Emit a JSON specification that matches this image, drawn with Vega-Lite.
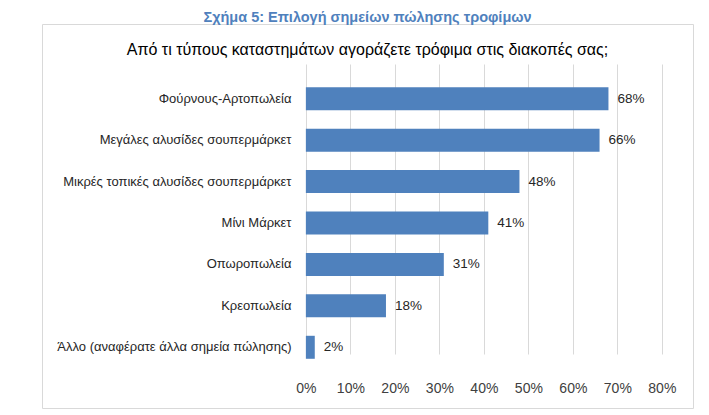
{
  "$schema": "https://vega.github.io/schema/vega-lite/v6.json",
  "autosize": {"type": "none"},
  "padding": {"left": 42, "top": 24, "right": 16, "bottom": 7},
  "width": 651,
  "height": 384,
  "background": "white",
  "title": {
    "text": "Σχήμα 5: Επιλογή σημείων πώλησης τροφίμων",
    "subtitle": "Από τι τύπους καταστημάτων αγοράζετε τρόφιμα στις διακοπές σας;",
    "anchor": "middle",
    "frame": "group",
    "offset": -35,
    "font": "Liberation Sans",
    "fontSize": 14.5,
    "fontWeight": "bold",
    "color": "#4F81BD",
    "subtitleFont": "Liberation Sans",
    "subtitleFontSize": 16,
    "subtitleColor": "#000000",
    "subtitlePadding": 17
  },
  "data": {
    "values": [
      {"store": "Φούρνους-Αρτοπωλεία", "share": 0.68},
      {"store": "Μεγάλες αλυσίδες σουπερμάρκετ", "share": 0.66},
      {"store": "Μικρές τοπικές αλυσίδες σουπερμάρκετ", "share": 0.48},
      {"store": "Μίνι Μάρκετ", "share": 0.41},
      {"store": "Οπωροπωλεία", "share": 0.31},
      {"store": "Κρεοπωλεία", "share": 0.18},
      {"store": "Άλλο (αναφέρατε άλλα σημεία πώλησης)", "share": 0.02}
    ]
  },
  "encoding": {
    "y": {
      "field": "store",
      "type": "nominal",
      "sort": null,
      "scale": {"range": [54, 344], "paddingInner": 0.445, "paddingOuter": 0.2225},
      "axis": {
        "title": null,
        "orient": "left",
        "offset": -264,
        "labelPadding": 15,
        "ticks": false,
        "domain": false,
        "labelFont": "Liberation Sans",
        "labelFontSize": 13,
        "labelColor": "#262626",
        "labelLimit": 320
      }
    },
    "x": {
      "field": "share",
      "type": "quantitative",
      "scale": {"domain": [-0.593, 0.87], "nice": false, "zero": false},
      "axis": {
        "title": null,
        "values": [0, 0.1, 0.2, 0.3, 0.4, 0.5, 0.6, 0.7, 0.8],
        "format": ".0%",
        "offset": -30,
        "labelPadding": 3,
        "ticks": false,
        "domain": false,
        "grid": true,
        "gridColor": "#d9d9d9",
        "labelFont": "Liberation Sans",
        "labelFontSize": 14,
        "labelColor": "#404040"
      }
    }
  },
  "layer": [
    {
      "mark": {"type": "bar", "color": "#4F81BD"},
      "encoding": {"x2": {"datum": 0}}
    },
    {
      "mark": {
        "type": "text",
        "align": "left",
        "baseline": "middle",
        "dx": 9,
        "font": "Liberation Sans",
        "fontSize": 13.5,
        "color": "#262626"
      },
      "encoding": {
        "text": {"field": "share", "type": "quantitative", "format": ".0%"}
      }
    }
  ],
  "config": {
    "view": {"stroke": "#d9d9d9", "strokeWidth": 1}
  }
}
